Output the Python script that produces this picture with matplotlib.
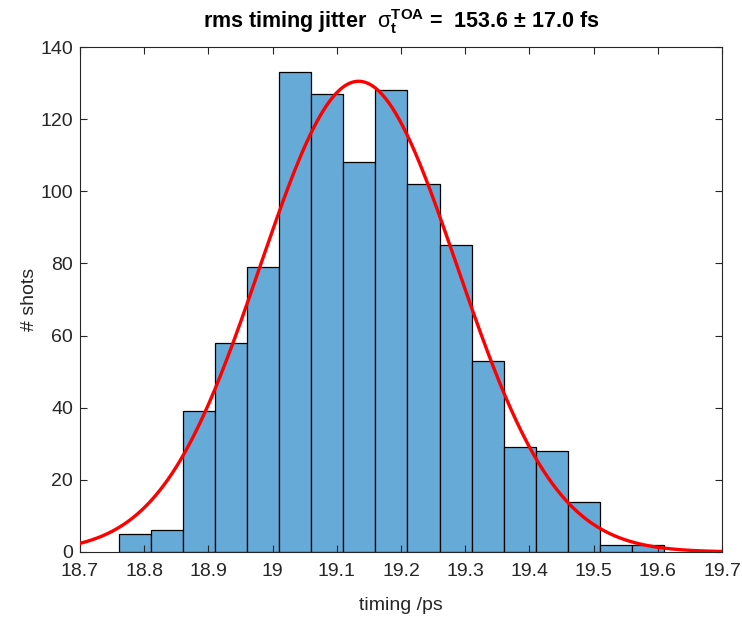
import numpy as np
import matplotlib
matplotlib.use("Agg")
import matplotlib.pyplot as plt

# Histogram of arrival times (bin edges in ps, counts per bin)
bin_start = 18.76
bin_width = 0.05
counts = [5, 6, 39, 58, 79, 133, 127, 108, 128, 102, 85, 53, 29, 28, 14, 2, 2]

# Gaussian fit parameters
fit_amp = 130.5
fit_mu = 19.134
fit_sigma = 0.1536

x_ticks = [18.7, 18.8, 18.9, 19.0, 19.1, 19.2, 19.3, 19.4, 19.5, 19.6, 19.7]
x_tick_labels = ["18.7", "18.8", "18.9", "19", "19.1", "19.2", "19.3", "19.4", "19.5", "19.6", "19.7"]
y_ticks = [0, 20, 40, 60, 80, 100, 120, 140]

plt.rcParams["font.family"] = ["Liberation Sans", "DejaVu Sans"]
plt.rcParams["mathtext.fontset"] = "custom"
plt.rcParams["mathtext.rm"] = "Liberation Sans:bold"
plt.rcParams["mathtext.bf"] = "Liberation Sans:bold"
plt.rcParams["mathtext.it"] = "Liberation Sans:italic"
plt.rcParams["mathtext.sf"] = "Liberation Sans"

fig = plt.figure(figsize=(7.42, 6.19), dpi=100)
ax = fig.add_axes([80 / 742, 1 - 552 / 619, 642 / 742, 505 / 619])

edges = bin_start + bin_width * np.arange(len(counts) + 1)
ax.bar(edges[:-1], counts, width=bin_width, align="edge",
       color=(0.4, 0.668, 0.845), edgecolor="black", linewidth=0.9, zorder=2)

xs = np.linspace(18.7, 19.7, 600)
ys = fit_amp * np.exp(-(xs - fit_mu) ** 2 / (2 * fit_sigma ** 2))
ax.plot(xs, ys, color="red", linewidth=2.4, zorder=3)

ax.set_xlim(18.7, 19.7)
ax.set_ylim(0, 140)
ax.set_xticks(x_ticks)
ax.set_xticklabels(x_tick_labels)
ax.set_yticks(y_ticks)

dark = (0.15, 0.15, 0.15)
for s in ax.spines.values():
    s.set_color(dark)
    s.set_linewidth(0.8)
ax.tick_params(direction="in", length=5, width=0.8, colors=dark,
               labelsize=14, top=True, right=True)
ax.tick_params(axis="x", pad=8)
ax.tick_params(axis="y", pad=5)
ax.set_axisbelow(False)

ax.set_xlabel("timing /ps", fontsize=14, color=dark, labelpad=12)
ax.set_ylabel("# shots", fontsize=14, color=dark, labelpad=2)
ax.set_title(r"rms timing jitter  $\mathsf{σ}_\mathrm{t}^\mathrm{TOA}$ =  153.6 $\pm$ 17.0 fs",
             fontsize=15.5, fontweight="bold", color="black", pad=14)

fig.savefig("out.png", dpi=100)
